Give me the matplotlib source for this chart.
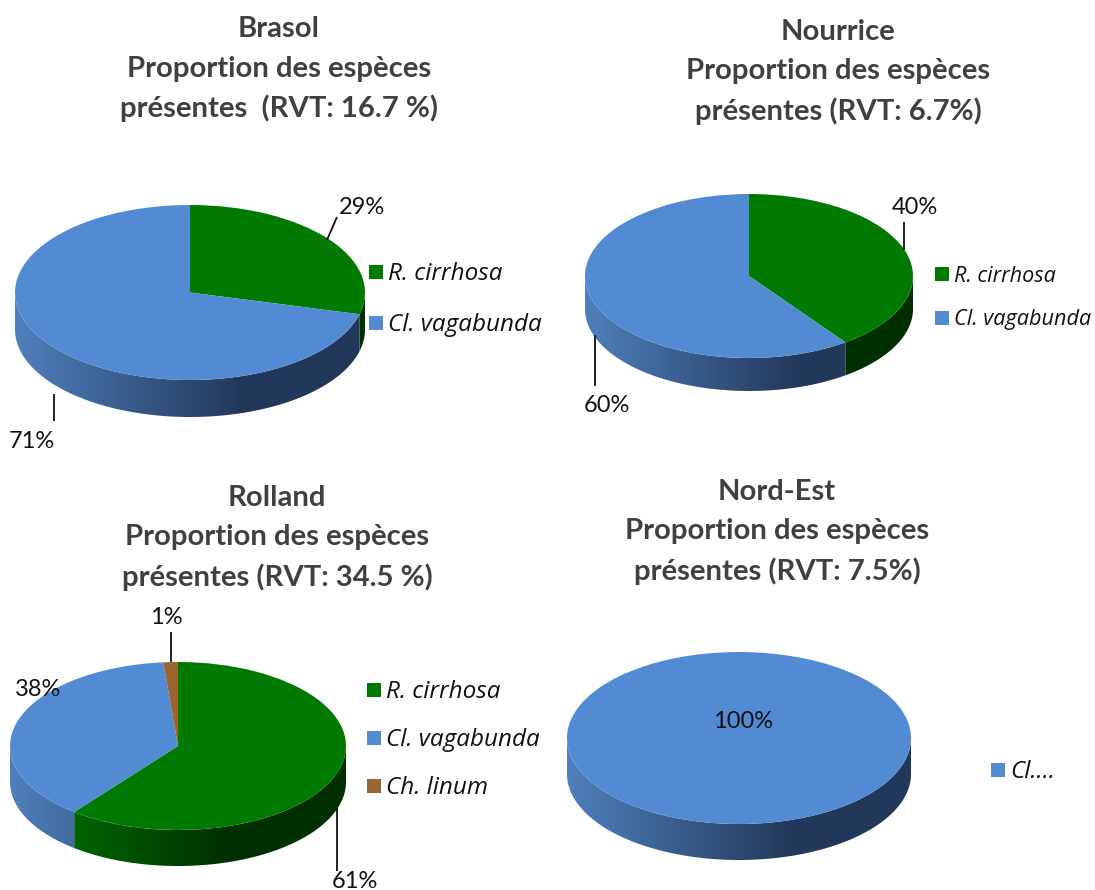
import numpy as np
import matplotlib
matplotlib.use('Agg')
import matplotlib.pyplot as plt
from matplotlib.colors import LinearSegmentedColormap
from matplotlib.patches import Polygon

plt.rcParams['font.family'] = ['Lato', 'DejaVu Sans']

W, H = 1095, 890

# donnees
sites = ['Brasol', 'Nourrice', 'Rolland', 'Nord-Est']
rvt = ['présentes  (RVT: 16.7 %)', 'présentes (RVT: 6.7%)', 'présentes (RVT: 34.5 %)', 'présentes (RVT: 7.5%)']
brasol_values = [29, 71]
nourrice_values = [40, 60]
rolland_values = [60.6, 38, 1.4]
nord_est_values = [100]
brasol_species = ['R. cirrhosa', 'Cl. vagabunda']
nourrice_species = ['R. cirrhosa', 'Cl. vagabunda']
rolland_species = ['R. cirrhosa', 'Cl. vagabunda', 'Ch. linum']
nord_est_species = ['Cl....']

colors = {'R. cirrhosa': '#007A00', 'Cl. vagabunda': '#528BD3', 'Ch. linum': '#996633', 'Cl....': '#528BD3'}
side_cmaps = {
    'R. cirrhosa': ['#007A00', '#003000', '#003000'],
    'Cl. vagabunda': ['#4F80BC', '#22385A', '#22385A'],
    'Ch. linum': ['#996633', '#4A3018', '#4A3018'],
    'Cl....': ['#4F80BC', '#22385A', '#22385A'],
}

fig = plt.figure(figsize=(W / 100, H / 100), dpi=100, facecolor='white')

# axe plein cadre en pixels pour les textes
bg = fig.add_axes([0, 0, 1, 1], zorder=5)
bg.set_xlim(0, W)
bg.set_ylim(H, 0)
bg.axis('off')


def pie3d(cx, cy, rx, ry, depth, values, species):
    ax = fig.add_axes([(cx - rx) / W, 1 - (cy + ry + depth) / H, 2 * rx / W, (2 * ry + depth) / H])
    d = depth / ry
    cols = [colors[s] for s in species]
    ax.pie(values, colors=cols, radius=1, startangle=90, counterclock=False,
           center=(0, 0), wedgeprops={'linewidth': 0})

    # paroi du cylindre, degrade de gauche a droite
    start = 90.0
    for v, s in zip(values, species):
        end = start - v * 3.6
        t = np.linspace(start, end, 300)
        t = (t + 360) % 360
        t = t[(t >= 180) & (t <= 360)]
        if len(t) > 1:
            xs = np.cos(np.radians(t))
            ys = np.sin(np.radians(t))
            pts = np.vstack([np.c_[xs, ys], np.c_[xs[::-1], ys[::-1] - d]])
            poly = Polygon(pts, closed=True, transform=ax.transData, fc='none', ec='none')
            ax.add_patch(poly)
            cmap = LinearSegmentedColormap.from_list('side', list(zip([0, 0.65, 1], side_cmaps[s])))
            im = ax.imshow(np.linspace(0, 1, 256)[None, :], cmap=cmap, extent=(-1, 1, -1 - d, 1),
                           aspect='auto', zorder=0.5)
            im.set_clip_path(poly)
        start = end
    ax.set_xlim(-1, 1)
    ax.set_ylim(-1 - d, 1)
    ax.set_aspect('auto')
    ax.axis('off')


def title(cx, top, site, last):
    lines = [site, 'Proportion des espèces', last]
    for i, line in enumerate(lines):
        bg.text(cx, top + i * 39.5, line, ha='center', va='center', fontsize=21.1, fontweight='bold', color='#404040')


def legend(x, ys, species, size):
    for y, s in zip(ys, species):
        bg.scatter([x + 7.5], [y], marker='s', s=115, color=colors[s], linewidths=0)
        bg.text(x + 20, y + 2, s, ha='left', va='center', fontsize=size, style='italic',
                family=['Open Sans', 'DejaVu Sans'], color='#111111')


def pct(x, y, value):
    bg.text(x, y, '%d%%' % round(value), ha='center', va='center', fontsize=17, color='#111111')


def leader(x0, y0, x1, y1):
    bg.plot([x0, x1], [y0, y1], color='#111111', lw=1.3, solid_capstyle='butt')


pie3d(190, 292.5, 175, 87.5, 37, brasol_values, brasol_species)
pie3d(749, 276, 164, 82, 33, nourrice_values, nourrice_species)
pie3d(178, 746, 168, 84, 36, rolland_values, rolland_species)
pie3d(739, 738, 172, 86, 36, nord_est_values, nord_est_species)

title(279, 29, sites[0], rvt[0])
title(838, 32, sites[1], rvt[1])
title(277, 498, sites[2], rvt[2])
title(777, 492, sites[3], rvt[3])

legend(368, [272, 323], brasol_species, 17.5)
legend(934, [274, 318], nourrice_species, 15.6)
legend(366, [690, 738, 786], rolland_species, 17.5)
legend(990, [770], nord_est_species, 17.5)

pct(362, 208, brasol_values[0])
pct(32, 441, brasol_values[1])
leader(337, 217, 327, 240)
leader(54, 394, 54, 421)

pct(915, 207, nourrice_values[0])
pct(607, 405, nourrice_values[1])
leader(904, 222, 904, 250)
leader(595, 335, 595, 386)

pct(355, 881, rolland_values[0])
pct(38, 689, rolland_values[1])
pct(166, 618, rolland_values[2])
leader(337, 808, 337, 871)
leader(171, 632, 171, 662)

pct(743, 721, nord_est_values[0])

fig.savefig('out.png', dpi=100, facecolor='white')
